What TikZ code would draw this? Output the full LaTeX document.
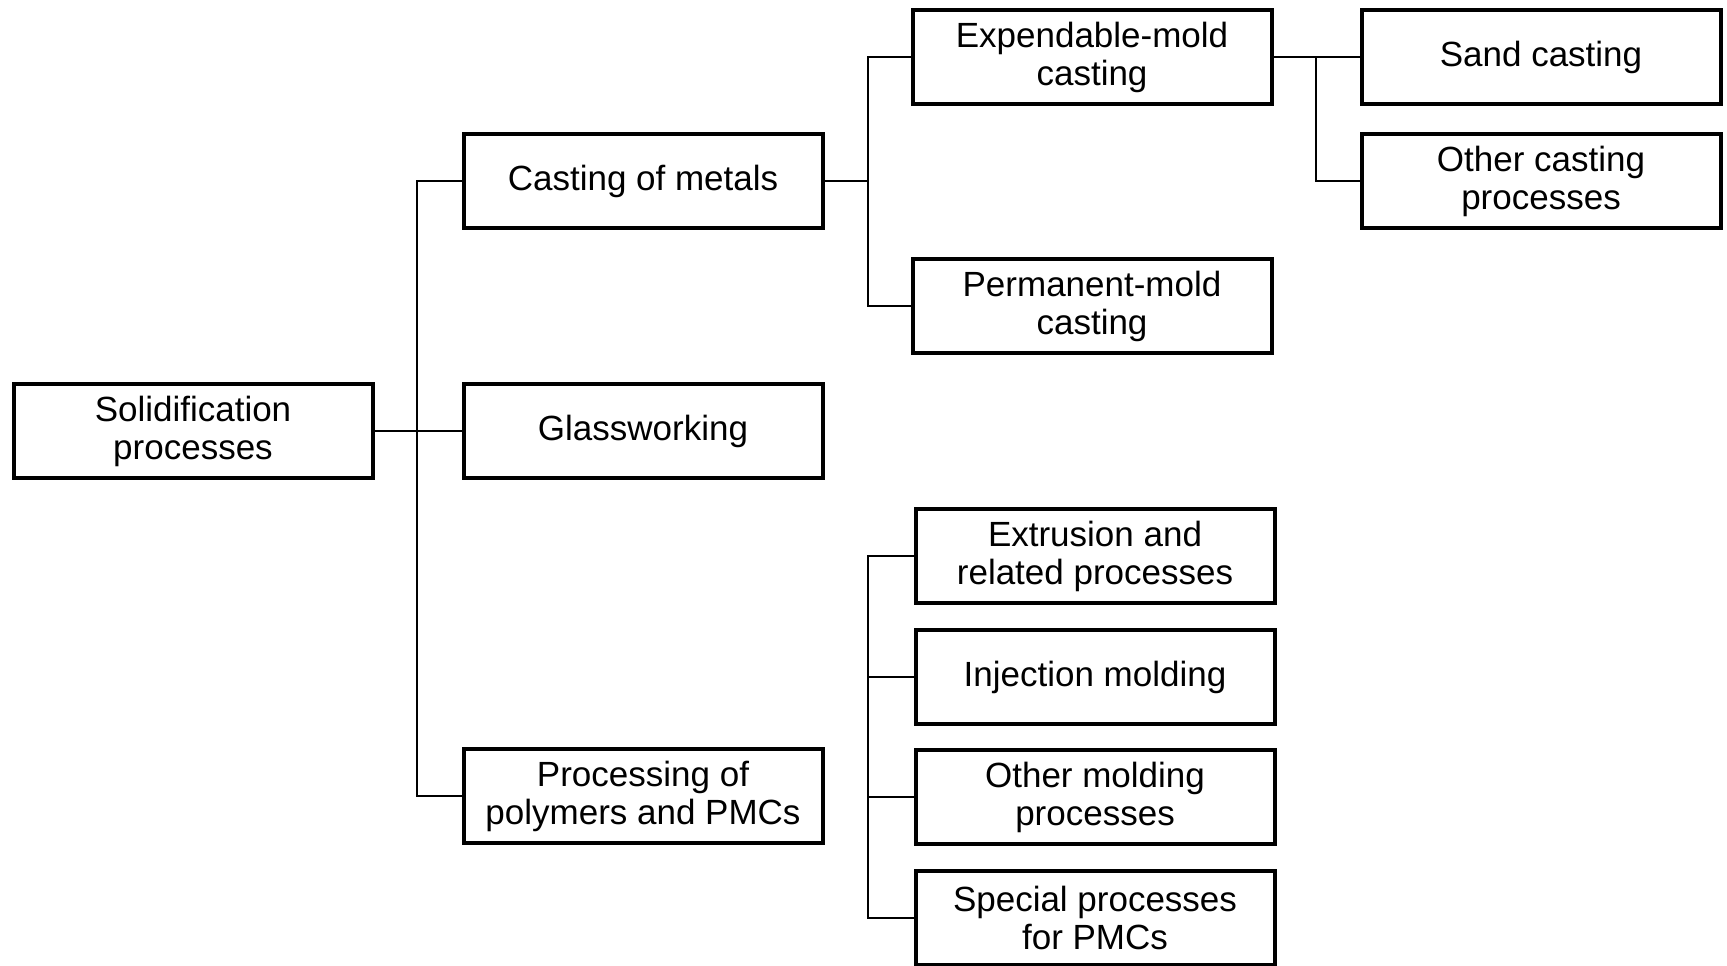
\documentclass[tikz,border=0pt]{standalone}
\usepackage{fontspec}
\setmainfont{Liberation Sans}
\usepackage{tikz}
\usetikzlibrary{calc,positioning}
\tikzset{
	proc/.style={draw, line width=2pt, inner sep=0pt, outer sep=0pt,
		minimum width=179.5pt, minimum height=47pt,
		align=center, font=\fontsize{17.5}{19}\selectfont},
	wire/.style={line width=1pt},
	process tree/.style={x=0.5pt, y=-0.5pt}
}
\begin{document}
\begin{tikzpicture}[process tree]
	\useasboundingbox (0,0) rectangle (1727,965);
	% first level
	\node[proc] (solid) at (193,431) {Solidification\\processes};
	\node[proc] (cast) at (643,181) {Casting of metals};
	\node[proc] (glass) at (643,431) {Glassworking};
	\node[proc] (poly) at (643,796) {Processing of\\polymers and PMCs};
	% casting
	\node[proc] (expm) at (1092,57) {Expendable-mold\\casting};
	\node[proc] (perm) at (1092,306) {Permanent-mold\\casting};
	\node[proc] (sand) at (1541,57) {Sand casting};
	\node[proc] (ocast) at (1541,181) {Other casting\\processes};
	% polymers
	\node[proc] (extr) at (1095,556) {Extrusion and\\related processes};
	\node[proc] (inj) at (1095,677) {Injection molding};
	\node[proc] (omold) at (1095,797) {Other molding\\processes};
	\node[proc] (spec) at (1095,918) {Special processes\\for PMCs};
	% trunks
	\coordinate (t1) at (417,431);
	\coordinate (t2) at (868,181);
	\coordinate (t3) at (1316,57);
	\coordinate (t4) at (868,556);
	\draw[wire] (solid.east) -- (glass.west);
	\draw[wire] (cast.west) -| (t1) |- (poly.west);
	\draw[wire] (cast.east) -- (t2);
	\draw[wire] (expm.west) -| (t2) |- (perm.west);
	\draw[wire] (expm.east) -- (sand.west);
	\draw[wire] (ocast.west) -| (t3);
	\draw[wire] (extr.west) -| (t4) |- (spec.west);
	\foreach \n in {inj,omold}
		\draw[wire] (\n.west) -- (\n.west -| t4);
\end{tikzpicture}
\end{document}
